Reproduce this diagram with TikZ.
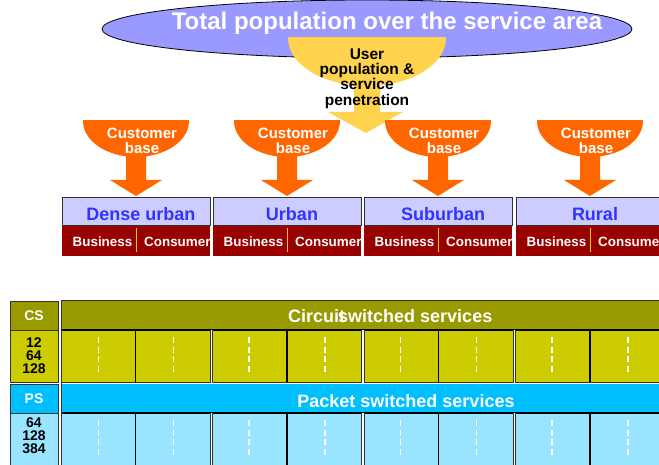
\documentclass[tikz,border=0pt]{standalone}
\usepackage{fontspec}
\setmainfont{Liberation Sans}
\usetikzlibrary{shapes.geometric}

\definecolor{areablue}{HTML}{9999FF}
\definecolor{penyellow}{HTML}{FFD34D}
\definecolor{custorange}{HTML}{FF6600}
\definecolor{regionfill}{HTML}{CCCCFF}
\definecolor{regionink}{HTML}{3333FF}
\definecolor{segred}{HTML}{990000}
\definecolor{segline}{HTML}{FFCC00}
\definecolor{csdark}{HTML}{999900}
\definecolor{cslight}{HTML}{CCCC00}
\definecolor{psdark}{HTML}{00BFFF}
\definecolor{pslight}{HTML}{99E5FF}
\definecolor{rulegrey}{HTML}{333333}

\tikzset{
  titlefont/.style={font=\fontsize{24}{28}\selectfont\bfseries, text=white, inner sep=0pt},
  userfont/.style={font=\fontsize{15.5}{15.3}\selectfont\bfseries, text=black, align=center, inner sep=0pt},
  custfont/.style={font=\fontsize{15}{14.5}\selectfont\bfseries, text=white, align=center, inner sep=0pt},
  regionbox/.style={draw=rulegrey, line width=1pt, fill=regionfill, minimum width=148pt, minimum height=28pt, inner sep=0pt, anchor=north west},
  regionfont/.style={font=\fontsize{18}{20}\selectfont\bfseries, text=regionink, inner sep=0pt},
  segfont/.style={font=\fontsize{13.4}{15}\selectfont\bfseries, text=white, inner sep=0pt},
  bandfont/.style={font=\fontsize{18}{20}\selectfont\bfseries, text=white, inner sep=0pt},
  sidebox/.style={draw=rulegrey, line width=1pt, minimum width=48pt, inner sep=0pt, anchor=north west},
  headfont/.style={font=\fontsize{14}{16}\selectfont\bfseries, text=white},
  numfont/.style={font=\fontsize{14}{12.8}\selectfont\bfseries, text=black, align=center, inner sep=0pt},
  celldash/.style={white, line width=1.2pt, dash pattern=on 6pt off 3.5pt},
  singlerule/.style={black, line width=1.3pt},
}

\begin{document}
\begin{tikzpicture}[x=1pt, y=-1pt]
\path[use as bounding box] (0,0) rectangle (659,465);

% overall population ellipse
\node[ellipse, draw=black, line width=0.8pt, fill=areablue,
      minimum width=530pt, minimum height=58pt, inner sep=0pt] (area) at (367,29) {};
\node[titlefont, anchor=base] (areatitle) at (387,29.5) {Total population over the service area};

% yellow funnel: user population & service penetration
\begin{scope}
  \clip (288,38) rectangle (446,92);
  \fill[penyellow] (367,38) ellipse [x radius=79, y radius=48];
\end{scope}
\fill[penyellow] (354,80) -- (380,80) -- (380,112) -- (403,112) -- (366,133)
  -- (328,112) -- (354,112) -- cycle;
\node[userfont, anchor=north] (penetration) at (367,48.5) {User\\population \&\\service\\penetration};

% customer base funnels feeding each area type
\foreach \c/\n in {136/1, 287/2, 438/3, 590/4} {
  \begin{scope}
    \clip (\c-53,121) rectangle (\c+53,160);
    \fill[custorange] (\c,121) ellipse [x radius=53, y radius=36];
  \end{scope}
  \fill[custorange] (\c-10,150) -- (\c+10,150) -- (\c+10,180) -- (\c+26,180)
    -- (\c,196) -- (\c-26,180) -- (\c-10,180) -- cycle;
  \node[custfont, anchor=north] (cust\n) at (\c+6,128) {Customer\\base};
}

% area types with business / consumer split
\foreach \l/\n/\name in {62/1/Dense urban, 213/2/Urban, 364/3/Suburban, 516/4/Rural} {
  \node[regionbox] (region\n) at (\l,197) {};
  \node[regionfont, anchor=base] (regionlabel\n) at (\l+79,220.5) {\name};
  \begin{scope}
    \clip (\l,226) rectangle (\l+148,256);
    \fill[segred] (\l,226) rectangle (\l+148,256);
    \node[segfont, anchor=base] (business\n) at (\l+40.5,246.5) {Business};
    \draw[segline, line width=1pt] (\l+74,228) -- (\l+74,252);
    \node[segfont, anchor=base west] (consumer\n) at (\l+82,246.5) {Consumer};
  \end{scope}
}

% service bands
\fill[csdark]  (61,301) rectangle (662,330);
\fill[cslight] (61,330) rectangle (662,382);
\fill[psdark]  (61,384) rectangle (662,413);
\fill[pslight] (61,413) rectangle (662,467);
\draw[rulegrey, line width=1.2pt] (61,300.5) -- (662,300.5);
\draw[black, line width=1.2pt] (61,330) -- (662,330);
\draw[rulegrey, line width=1.6pt] (61,382.5) -- (662,382.5);
\draw[black, line width=1.2pt] (61,413) -- (662,413);
\draw[rulegrey, line width=1pt] (61,300) -- (61,467);

\node[bandfont, anchor=base west] (csband) at (288,323) {Circuit\kern-7pt switched services};
\node[bandfont, anchor=base] (psband) at (406,407) {Packet switched services};

% cell separators
\foreach \x in {135.5, 287, 438.5, 590} {
  \draw[singlerule] (\x,330) -- (\x,382);
  \draw[singlerule] (\x,413) -- (\x,467);
}
\foreach \x in {211.5, 363, 514.5} {
  \draw[rulegrey, line width=3.6pt] (\x,330) -- (\x,383);
  \draw[white, line width=1.6pt] (\x,330) -- (\x,383);
  \draw[rulegrey, line width=3.6pt] (\x,413) -- (\x,467);
  \draw[white, line width=1.6pt] (\x,413) -- (\x,467);
}
\foreach \x in {98.3, 173.3, 249, 325, 400.8, 476.3, 552, 628} {
  \draw[celldash] (\x,337) -- (\x,375);
  \draw[celldash] (\x,420) -- (\x,458);
}

% side column: bearer types and rates
\node[sidebox, fill=csdark, minimum height=29pt] (cs) at (10,301) {};
\node[headfont] (cslabel) at (34,315.6) {CS};
\node[sidebox, fill=cslight, minimum height=52pt] (csrates) at (10,330) {};
\node[numfont, anchor=north] (csratelabel) at (34,337.7) {12\\64\\128};
\node[sidebox, fill=psdark, minimum height=29pt] (ps) at (10,384) {};
\node[headfont] (pslabel) at (34,398.8) {PS};
\node[sidebox, fill=pslight, minimum height=54pt] (psrates) at (10,413) {};
\node[numfont, anchor=north] (psratelabel) at (34,417.7) {64\\128\\384};
\end{tikzpicture}
\end{document}
